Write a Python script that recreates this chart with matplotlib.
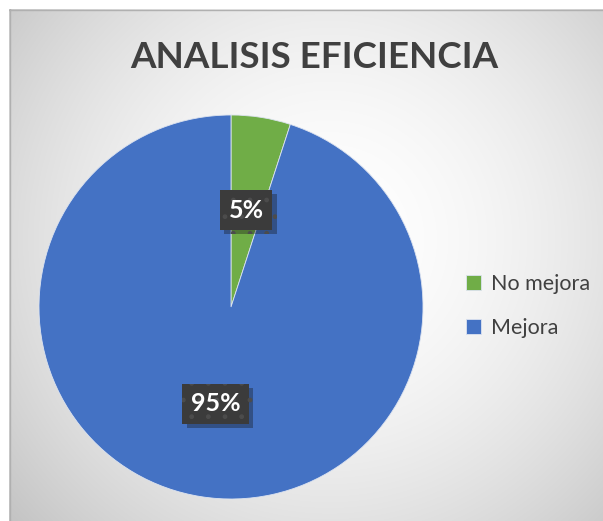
import matplotlib.pyplot as plt
import numpy as np
from matplotlib import patheffects

# data
labels = ['No mejora', 'Mejora']
values = [5, 95]
colors = ['#70AD47', '#4472C4']
title = 'ANALISIS EFICIENCIA'

plt.rcParams['font.family'] = ['Lato', 'DejaVu Sans']

W, H = 603, 521
fig = plt.figure(figsize=(W / 100, H / 100), dpi=100)
fig.patch.set_facecolor('white')

# background with radial gradient (chart area)
bg = fig.add_axes([9 / W, 0, (W - 9) / W, (H - 9) / H])
yy, xx = np.mgrid[0:512, 0:594]
cx, cy = 320, 230
d = np.hypot(xx - cx, yy - cy) / np.hypot(320, 290)
shade = 1 - 0.24 * np.clip(d, 0, 1.2) ** 1.8
img = np.dstack([shade, shade, shade])
bg.imshow(img, extent=[0, 594, 512, 0], aspect='auto', interpolation='bilinear')
bg.set_xlim(0, 594)
bg.set_ylim(512, 0)
bg.axis('off')
bg.plot([0, 594], [0.5, 0.5], color='#b0b0b0', lw=1)
bg.plot([0.5, 0.5], [0, 512], color='#b0b0b0', lw=1)

# pie
ax = fig.add_axes([39 / W, 22 / H, 384 / W, 384 / H])
wedges, texts, autotexts = ax.pie(
    values, colors=colors, startangle=90, counterclock=False,
    autopct='%1.0f%%', pctdistance=0.51,
    wedgeprops=dict(edgecolor='#dce3f0', linewidth=0.6),
    textprops=dict(color='white', fontsize=18, fontweight='bold'))
for t in autotexts:
    t.set_bbox(dict(boxstyle='square,pad=0.34', facecolor='#3b3b3b',
                    edgecolor='#4c4c4c', linewidth=0, hatch='.'))
    t.get_bbox_patch().set_path_effects(
        [patheffects.SimplePatchShadow(offset=(3, -3), alpha=0.35), patheffects.Normal()])
ax.set_xlim(-1, 1)
ax.set_ylim(-1, 1)
ax.set_aspect('equal')

# title
fig.text(314 / W, 1 - 57 / H, title, ha='center', va='center',
         fontsize=26.5, fontweight='bold', color='#404040')

# legend
leg = fig.legend(wedges, labels, loc='center left', bbox_to_anchor=(447 / W, 1 - 306 / H),
                 frameon=False, fontsize=15.5, handlelength=0.7, handleheight=0.7,
                 handletextpad=0.45, labelspacing=1.15, labelcolor='#404040')

fig.savefig('out.png', dpi=100)
